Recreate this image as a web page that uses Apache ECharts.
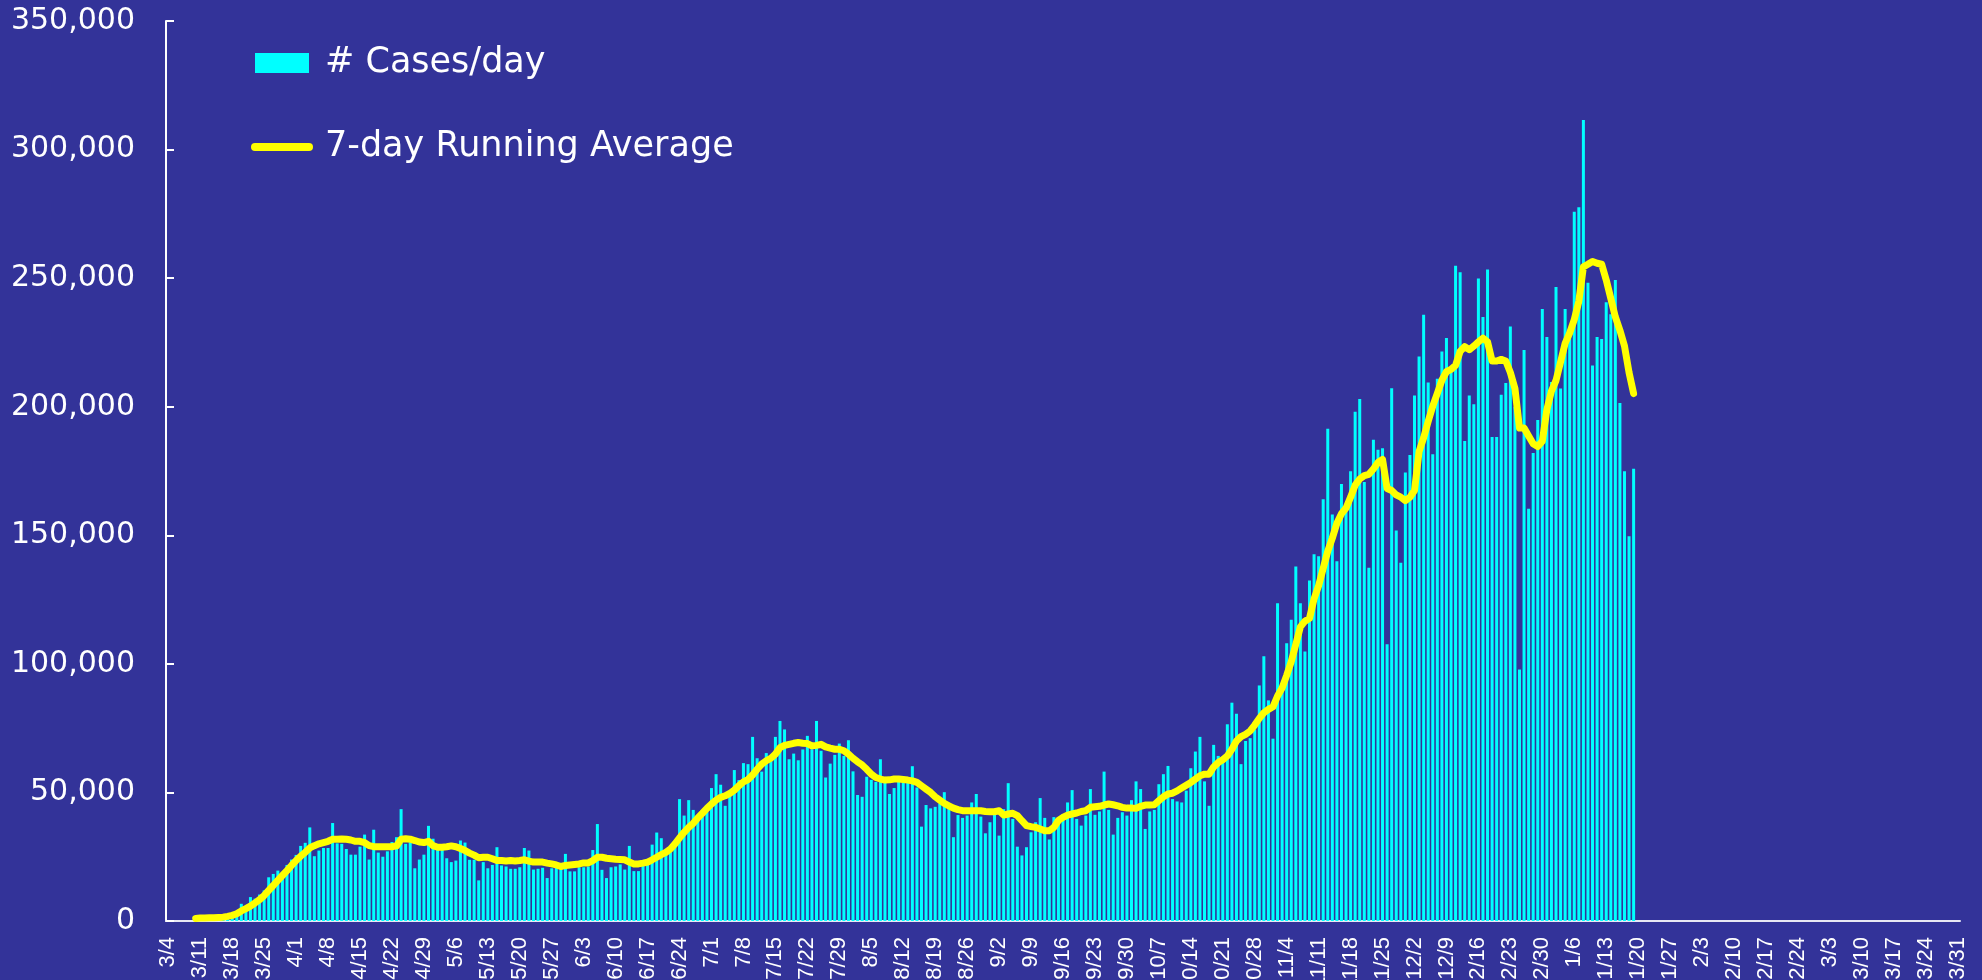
<!DOCTYPE html>
<html>
<head>
<meta charset="utf-8">
<title>US cases per day</title>
<script src="https://cdn.jsdelivr.net/npm/echarts@6/dist/echarts.min.js"></script>
<style>
  html, body { margin: 0; padding: 0; background: #333399; }
  #chart { width: 1982px; height: 980px; }
</style>
</head>
<body>
<div id="chart"></div>
<script>
// first day on the axis, and how many days the axis spans (3/4 .. 3/31 next year)
const startDay = [2020, 2, 4];
const dayCount = 393;
const labelEvery = 7;
const yTicks = [0, 50000, 100000, 150000, 200000, 250000, 300000, 350000];

// new cases per day (index 0 = 3/4)
const casesMar = [null, null, null, null, null, null, 300, 400, 500, 700, 700, 1000, 1300, 1800, 2600, 3500,
  6700, 5400, 9300, 8700, 10300, 11900, 17000, 18300, 19600, 18600, 21800, 23900];
const casesApr = [25700, 29200, 30400, 36400, 25200, 27400, 28400, 28400, 38100, 30200, 30000, 28000, 25800, 25800,
  28900, 33600, 23900, 35500, 26600, 25000, 27100, 30700, 32600, 43500, 30000, 30600, 20500, 23900, 25800, 37000];
const casesMay = [32000, 27600, 27900, 24400, 22900, 23500, 31300, 30500, 23800, 23800, 15800, 22900, 20500, 21800,
  28700, 21600, 21200, 20300, 20300, 20900, 28400, 27400, 20000, 20300, 20700, 16700, 20500, 22200, 20900, 26100, 19300];
const casesJun = [19300, 20900, 20900, 21200, 27600, 37700, 19900, 16700, 20900, 21200, 22000, 20000, 29200, 19400,
  19400, 21600, 22900, 29700, 34400, 32200, 26100, 28400, 30000, 47400, 41000, 47000, 43200, 39300, 41600, 43200];
const casesJul = [51700, 57100, 53000, 44800, 49400, 58700, 54800, 61400, 61000, 71600, 63300, 58100, 65300, 63600,
  71600, 77800, 74500, 62900, 65100, 62500, 66700, 72000, 66800, 77800, 66200, 55800, 61200, 64600, 69000, 64200, 70300];
const casesAug = [58200, 49000, 48300, 56100, 54900, 54100, 62900, 53900, 49400, 51700, 54500, 53900, 53900, 60200,
  51900, 36700, 45100, 43800, 44400, 45700, 50100, 44200, 32600, 41200, 40100, 41000, 46100, 49400, 40600, 34100, 38400];
const casesSep = [41900, 33200, 43500, 53600, 39700, 28900, 25500, 28700, 34500, 38400, 47800, 40100, 31700, 40400,
  39500, 41600, 46100, 50900, 39700, 37100, 41000, 51300, 41300, 42600, 58100, 43200, 33600, 40100, 42300, 41000];
const casesOct = [47000, 54300, 51300, 35800, 42600, 43200, 53200, 57100, 60300, 47400, 46500, 46100, 50700, 59400,
  65900, 71600, 54300, 44800, 68500, 64200, 62900, 76500, 84900, 80600, 61000, 70000, 71100, 74500, 91600, 103000, 85800];
const casesNov = [70900, 123600, 91000, 108000, 117200, 137900, 123600, 104800, 132400, 142600, 141800, 164000,
  191400, 158100, 139900, 169900, 162300, 174900, 198000, 203000, 170700, 137400, 187200, 183300, 183800, 107600,
  207200, 151900, 139300, 174400];
const casesDec = [181200, 204400, 219500, 235800, 209400, 181500, 210900, 221500, 226700, 215300, 254800, 252300,
  186700, 204400, 201000, 249900, 234900, 253400, 188200, 188200, 204700, 209200, 231200, 200000, 97800, 222100,
  160300, 182000, 194800, 238000, 227100];
const casesJan = [209600, 246600, 207100, 238000, 227700, 275800, 277600, 311500, 248200, 216000, 227100, 226300,
  240600, 236000, 249300, 201400, 174900, 149600, 175900];

// 7-day running average
const avgMar = [null, null, null, null, null, null, 1000, 1200, 1200, 1300, 1300, 1400, 1500, 1800, 2200, 2800,
  3900, 4800, 5800, 7000, 8300, 9900, 11900, 13800, 15800, 17700, 19600, 21600];
const avgApr = [23500, 25200, 26700, 28400, 29300, 30000, 30500, 31000, 31800, 31800, 31900, 31800, 31500, 31000,
  31000, 30500, 29300, 28900, 28900, 28900, 28900, 28900, 29200, 31800, 32000, 31800, 31300, 30700, 30500, 31000];
const avgMay = [29300, 28700, 28700, 28900, 29200, 28900, 28200, 27400, 26400, 25600, 24600, 24800, 24800, 24200,
  23500, 23500, 23300, 23500, 23300, 23500, 23800, 23300, 22900, 22900, 22900, 22500, 22200, 21800, 21200, 21600, 21800];
const avgJun = [22000, 22200, 22600, 22600, 23500, 24800, 24800, 24400, 24200, 24000, 23900, 23800, 22900, 22200,
  22200, 22500, 22900, 23800, 24800, 25800, 26700, 28000, 30000, 32300, 34500, 36400, 38000, 40100, 41900, 43800];
const avgJul = [45500, 47000, 48100, 48700, 49600, 50900, 52600, 54100, 55000, 56800, 59000, 61000, 62300, 63300,
  64900, 67400, 68300, 68700, 69100, 69400, 69100, 69000, 68100, 68300, 68700, 67700, 67200, 66800, 66800, 66200, 64900];
const avgAug = [63300, 61900, 60700, 59000, 57100, 55800, 55200, 54800, 54900, 55200, 55200, 55000, 54800, 54500,
  53900, 52600, 51300, 50000, 48300, 47000, 45700, 44800, 43900, 43300, 42900, 42900, 42900, 42900, 42900, 42600, 42500];
const avgSep = [42500, 42900, 41200, 41600, 41900, 41000, 39000, 37100, 36700, 36400, 35800, 35100, 35100, 36400,
  39100, 40300, 41200, 41600, 42000, 42600, 42900, 44200, 44400, 44600, 45100, 45500, 45200, 44800, 44200, 43900];
const avgOct = [43900, 43800, 44600, 45100, 45100, 45200, 46800, 48300, 49400, 49700, 50600, 51700, 52800, 53900,
  55200, 56500, 57100, 57100, 59900, 61600, 62700, 64200, 66800, 70000, 71700, 72600, 73900, 76200, 78800, 81000, 82300];
const avgNov = [83300, 87500, 90600, 95500, 100900, 107600, 114400, 116600, 117700, 125300, 130400, 137100, 143800,
  148900, 154700, 158400, 160600, 164800, 169500, 171900, 173200, 173700, 175800, 178300, 179500, 168200, 167400,
  165700, 164800, 163500];
const avgDec = [164800, 167400, 182500, 187900, 194300, 200200, 205200, 210300, 213600, 214500, 216100, 221500,
  223400, 222200, 223600, 225200, 226700, 225200, 217800, 217800, 218400, 217800, 213300, 207100, 191700, 191700,
  188600, 185600, 184500, 186600, 198900];
const avgJan = [206100, 210200, 217400, 224600, 228700, 233900, 241000, 254400, 255400, 256500, 255800, 255400,
  249300, 242100, 234900, 229700, 223600, 213300, 205100];

const dailyCases = [].concat(casesMar, casesApr, casesMay, casesJun, casesJul, casesAug,
  casesSep, casesOct, casesNov, casesDec, casesJan);
const runningAvg = [].concat(avgMar, avgApr, avgMay, avgJun, avgJul, avgAug,
  avgSep, avgOct, avgNov, avgDec, avgJan);

function dayLabels() {
  const out = [];
  for (let i = 0; i < dayCount; i++) {
    const d = new Date(Date.UTC(startDay[0], startDay[1], startDay[2] + i));
    out.push((d.getUTCMonth() + 1) + "/" + d.getUTCDate());
  }
  return out;
}

const categories = dayLabels();

function init(myChart) {
  const white = "#ffffff";
  const option = {
    animation: false,
    backgroundColor: "#333399",
    grid: {
      left: 166,
      right: 22,
      top: 21,
      bottom: 59,
      containLabel: false,
      outerBoundsMode: "none"
    },
    legend: {
      orient: "vertical",
      left: 246,
      top: 36,
      itemWidth: 62,
      itemHeight: 20,
      itemGap: 40,
      textStyle: {
        color: white,
        fontFamily: "DejaVu Sans",
        fontSize: 35,
        lineHeight: 44,
        padding: [0, 0, 0, 7]
      },
      data: [
        {
          name: "# Cases/day",
          icon: "path://M0,0h54v20h-54z",
          itemStyle: { color: "#00ffff" }
        },
        {
          name: "7-day Running Average",
          icon: "path://M4,0h54a4,4 0 0 1 0,8h-54a4,4 0 0 1 0,-8z",
          itemStyle: { color: "#ffff00" }
        }
      ]
    },
    xAxis: {
      type: "category",
      data: categories,
      boundaryGap: true,
      axisLine: { lineStyle: { color: "#e8e8f4", width: 2 } },
      axisTick: { show: false },
      axisLabel: {
        interval: labelEvery - 1,
        rotate: 90,
        margin: 16,
        color: white,
        fontFamily: "Liberation Sans",
        fontSize: 22
      },
      splitLine: { show: false }
    },
    yAxis: {
      type: "value",
      min: yTicks[0],
      max: yTicks[yTicks.length - 1],
      interval: yTicks[1] - yTicks[0],
      axisLine: { show: true, lineStyle: { color: white, width: 2 } },
      axisTick: { show: true, inside: true, length: 8, lineStyle: { color: white, width: 2 } },
      axisLabel: {
        margin: 31,
        color: white,
        fontFamily: "DejaVu Sans",
        fontSize: 30,
        formatter: function(v) {
          return v.toLocaleString("en-US");
        }
      },
      splitLine: { show: false }
    },
    series: [
      {
        name: "# Cases/day",
        type: "bar",
        data: dailyCases,
        barWidth: 3,
        itemStyle: { color: "#00ffff" }
      },
      {
        name: "7-day Running Average",
        type: "line",
        data: runningAvg,
        showSymbol: false,
        z: 5,
        lineStyle: { color: "#ffff00", width: 7, cap: "round", join: "round" },
        itemStyle: { color: "#ffff00" }
      }
    ]
  };

  myChart.setOption(option);
}

const myChart = echarts.init(document.getElementById("chart"));
init(myChart);
</script>
</body>
</html>
